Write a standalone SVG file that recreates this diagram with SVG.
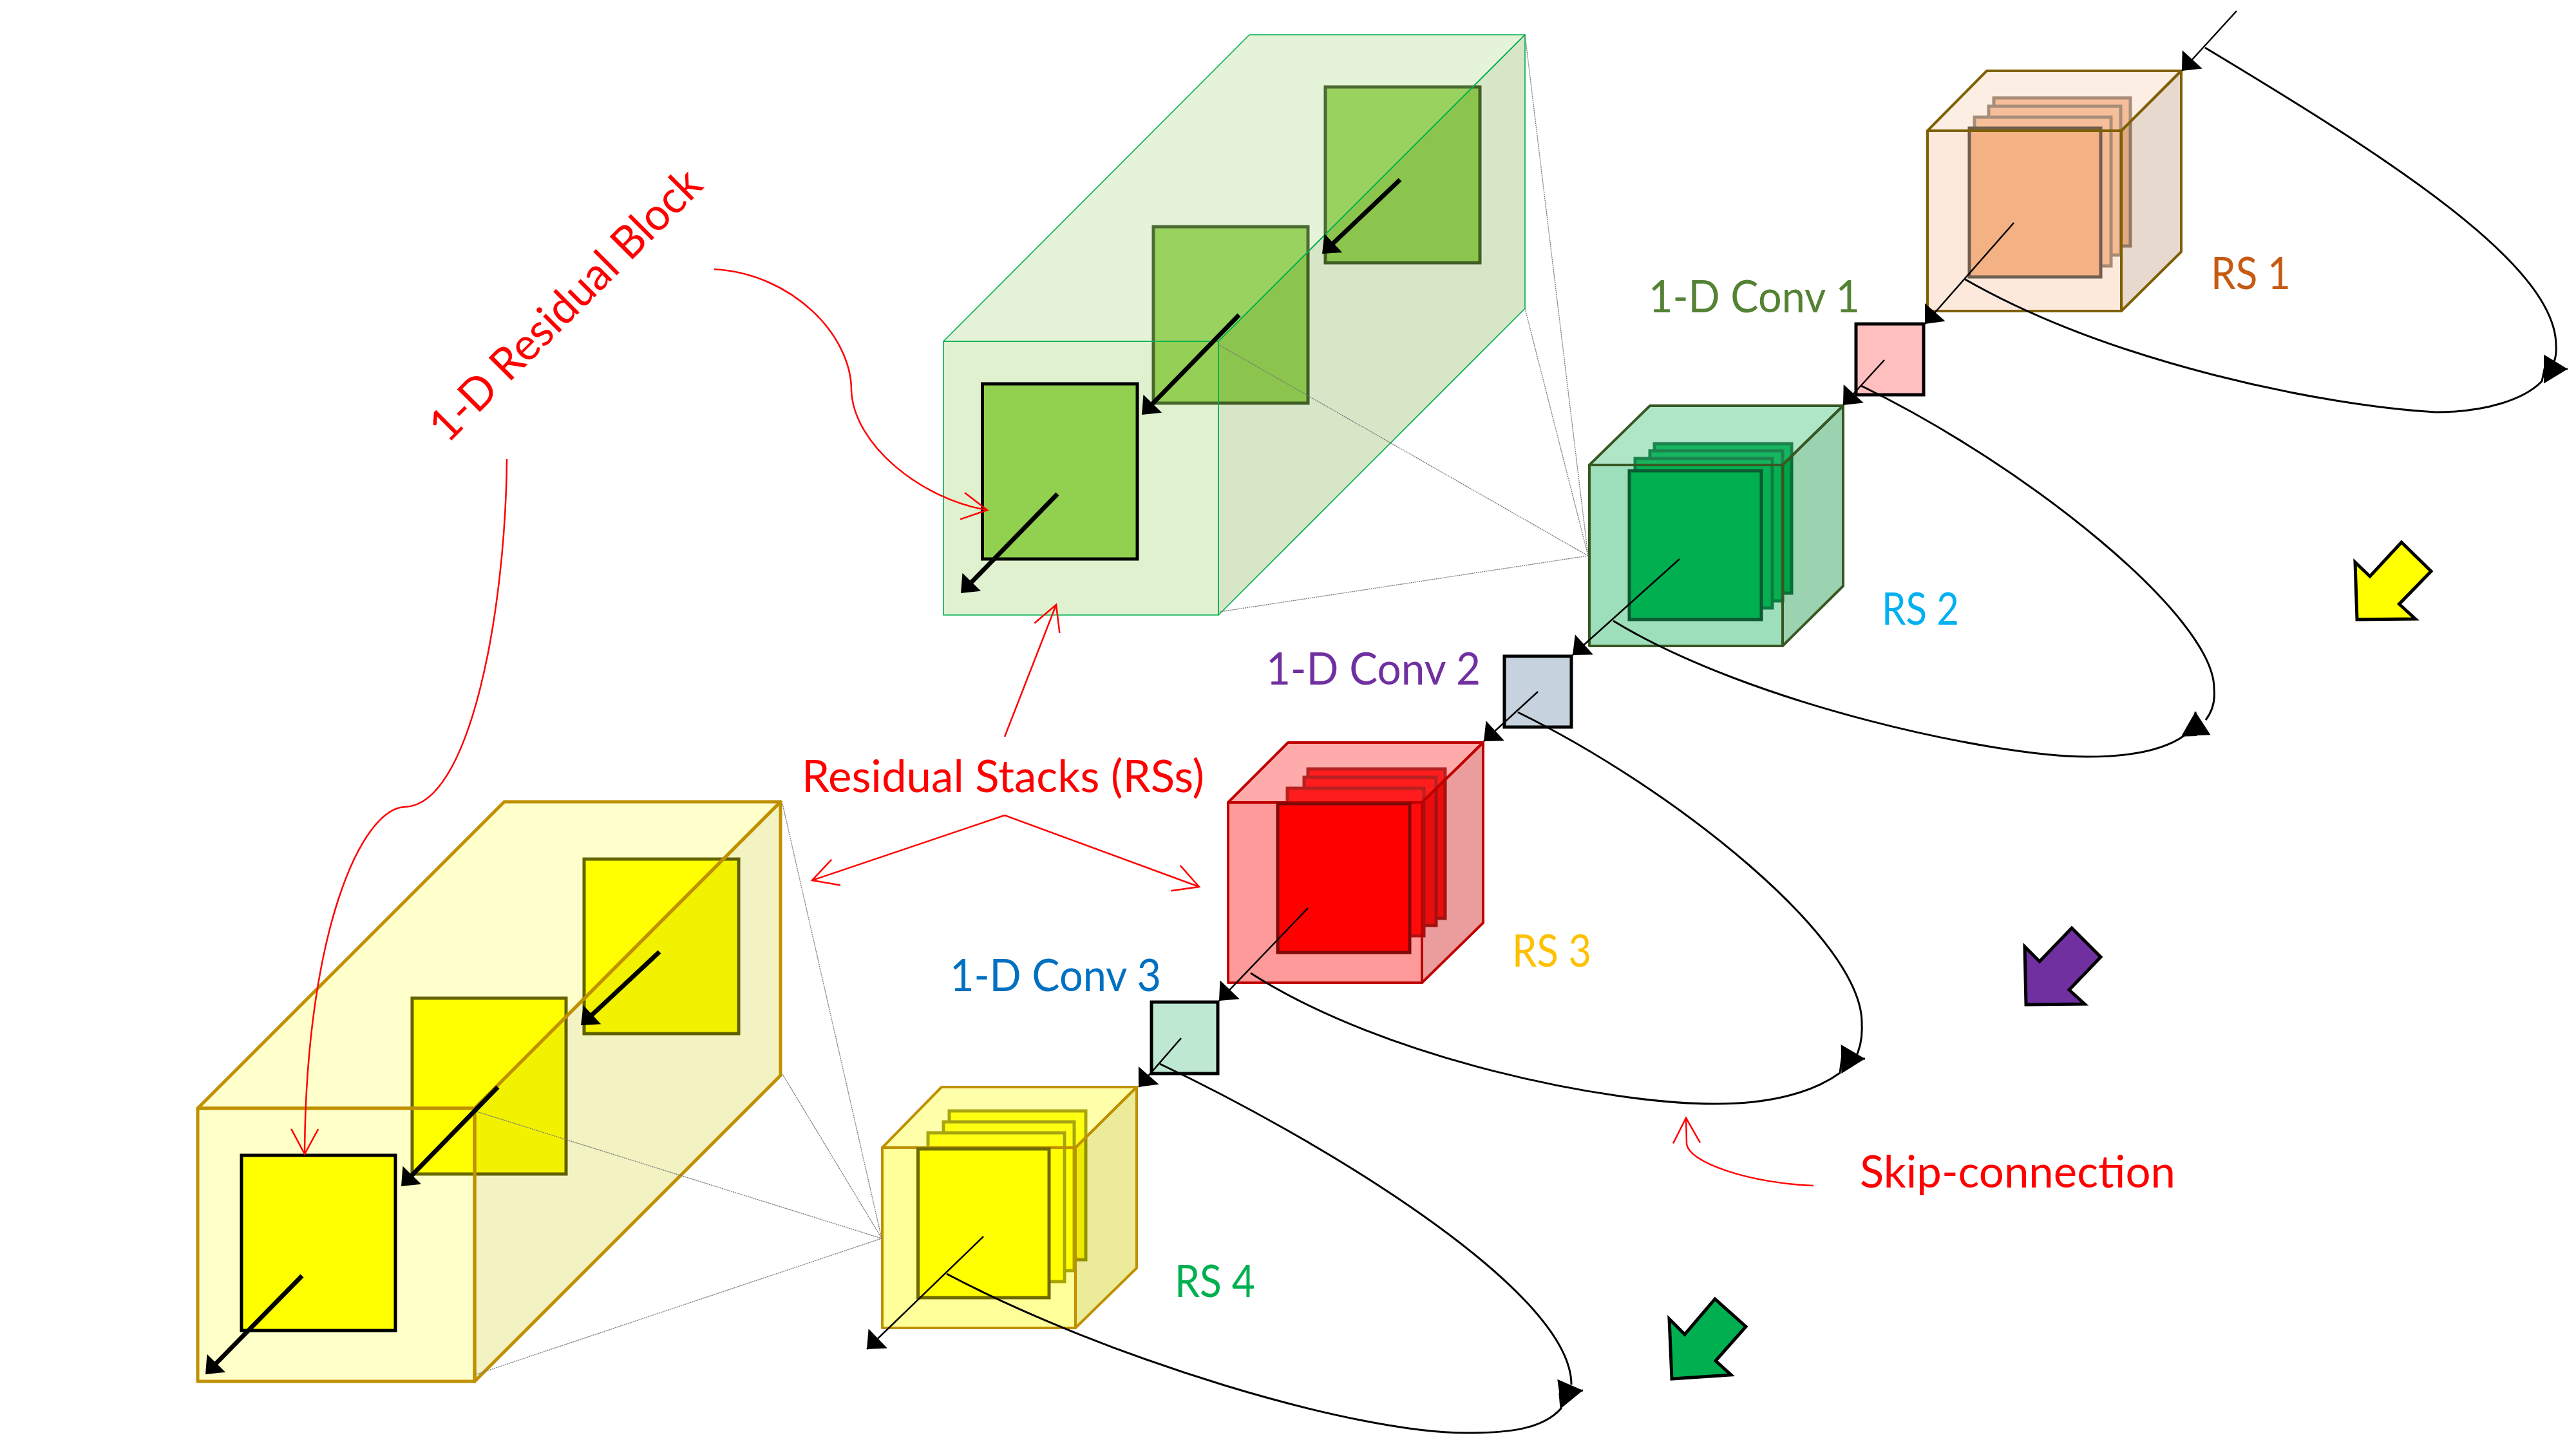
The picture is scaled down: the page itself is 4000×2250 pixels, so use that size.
<svg xmlns="http://www.w3.org/2000/svg" width="4000" height="2250" viewBox="0 0 4000 2250">
<defs>
<style>
.lbl{font-family:Lato,"Open Sans","Liberation Sans",sans-serif;font-size:70px}
.red{fill:#FF0000}
.cube polygon{stroke-width:4;stroke-linejoin:round}
.plate{stroke-width:5}
.sq{stroke:#000;stroke-width:5}
.big{fill:none;stroke:#000;stroke-width:7}
.thin{fill:none;stroke:#000;stroke-width:2.5}
.feed{fill:none;stroke:#000;stroke-width:3}
.call{fill:none;stroke:#FF0000;stroke-width:2.5}
.fan{fill:none;stroke:#777;stroke-width:1.3;stroke-dasharray:2 1}
.dir{stroke:#000;stroke-width:5;stroke-linejoin:miter}
</style>
<marker id="ah" markerUnits="userSpaceOnUse" markerWidth="26" markerHeight="44" refX="24" refY="21" orient="auto" overflow="visible"><path d="M0,0 L24,21 L0,42 z" fill="#000"/></marker>
<marker id="ahb" markerUnits="userSpaceOnUse" markerWidth="26" markerHeight="44" refX="12" refY="20" orient="auto" overflow="visible"><path d="M0,0 L24,20 L0,40 z" fill="#000"/></marker>
<marker id="ahl" markerUnits="userSpaceOnUse" markerWidth="40" markerHeight="47" refX="37" refY="22.5" orient="auto" overflow="visible"><path d="M0,0 L37,22.5 L0,45 z" fill="#000"/></marker>
<marker id="open" markerUnits="userSpaceOnUse" markerWidth="44" markerHeight="46" refX="40" refY="22" orient="auto" overflow="visible"><path d="M1,1 L40,22 L1,43" fill="none" stroke="#FF0000" stroke-width="2.5"/></marker>
</defs>
<rect width="4000" height="2250" fill="#fff"/>

<g id="rs2-detail">
<rect class="plate" x="2058" y="135" width="240" height="273" fill="#92D050" stroke="#263D13"/>
<rect class="plate" x="1791" y="352" width="240" height="274" fill="#92D050" stroke="#263D13"/>
<g fill-opacity="0.3" stroke="#00B050" stroke-width="1.6" stroke-linejoin="round">
<polygon points="1465,530 1940,54 2368,54 1892,530" fill="rgb(168,215,129)"/>
<polygon points="1892,530 2368,54 2368,479 1892,955" fill="rgb(125,172,72)"/>
<polygon points="1465,530 1892,530 1892,955 1465,955" fill="rgb(152,208,98)"/>
</g>
<rect class="plate" x="1525.5" y="596" width="240.5" height="272" fill="#92D050" stroke="#000"/>
</g>

<g id="rs4-detail">
<rect class="plate" x="907" y="1334" width="240" height="271" fill="#FFFF00" stroke="#3F3F00"/>
<rect class="plate" x="640" y="1550" width="239" height="273" fill="#FFFF00" stroke="#3F3F00"/>
<g stroke="#BF9000" stroke-width="5" stroke-linejoin="round">
<polygon points="307,1721 783,1245 1212,1245 737,1721" fill="#FFFF00" fill-opacity="0.2"/>
<polygon points="737,1721 1212,1245 1212,1670 737,2145" fill="#C8C800" fill-opacity="0.24"/>
<polygon points="307,1721 737,1721 737,2145 307,2145" fill="#FFFF00" fill-opacity="0.21"/>
</g>
<rect class="plate" x="375" y="1794" width="239" height="272" fill="#FFFF00" stroke="#000"/>
</g>

<g id="rs1" class="cube">
<rect class="plate" x="3096" y="152" width="212" height="230" fill="#F4B183" stroke="#705F50"/>
<rect class="plate" x="3088" y="165" width="205" height="231" fill="#F4B183" stroke="#705F50"/>
<rect class="plate" x="3066" y="182" width="212" height="231" fill="#F4B183" stroke="#705F50"/>
<g fill-opacity="0.4" stroke="#7F6000">
<polygon points="2993,203 3085,110 3387,110 3294,203" fill="rgb(250,212,187)"/>
<polygon points="3294,203 3387,110 3387,391 3294,483" fill="rgb(197,160,132)"/>
<polygon points="2993,203 3294,203 3294,483 2993,483" fill="rgb(247,200,167)"/>
</g>
<rect class="plate" x="3058" y="199" width="204" height="231" fill="#F4B183" stroke="#705F50"/>
<line x1="2993" y1="203" x2="3294" y2="203" stroke="#7F6000" stroke-width="4"/>
</g>

<g id="conv1"><rect class="sq" x="2882" y="503" width="105" height="110" fill="#FFBFBF"/></g>

<g id="rs2" class="cube">
<rect class="plate" x="2569" y="689" width="213" height="232" fill="#00B050" stroke="#0B5A32"/>
<rect class="plate" x="2562" y="700" width="206" height="233" fill="#00B050" stroke="#0B5A32"/>
<rect class="plate" x="2539" y="712" width="213" height="232" fill="#00B050" stroke="#0B5A32"/>
<g fill-opacity="0.4" stroke="#385723">
<polygon points="2468,722 2562,630 2862,630 2768,722" fill="rgb(55,192,117)"/>
<polygon points="2768,722 2862,630 2862,910 2768,1003" fill="rgb(5,142,57)"/>
<polygon points="2468,722 2768,722 2768,1003 2468,1003" fill="rgb(12,175,85)"/>
</g>
<rect class="plate" x="2530" y="731" width="205" height="231" fill="#00B050" stroke="#0B5A32"/>
</g>

<g id="conv2"><rect class="sq" x="2336" y="1019" width="104" height="110" fill="#C6D3DE"/></g>

<g id="rs3" class="cube">
<rect class="plate" x="2031" y="1194" width="213" height="232" fill="#FF0000" stroke="#7F0A0A"/>
<rect class="plate" x="2025" y="1207" width="205" height="230" fill="#FF0000" stroke="#7F0A0A"/>
<rect class="plate" x="1999" y="1224" width="212" height="229" fill="#FF0000" stroke="#7F0A0A"/>
<g fill-opacity="0.44" stroke="#C00000">
<polygon points="1907,1246 2000,1153 2303,1153 2208,1246" fill="rgb(255,63,63)"/>
<polygon points="2208,1246 2303,1153 2303,1433 2208,1526" fill="rgb(209,30,30)"/>
<polygon points="1907,1246 2208,1246 2208,1526 1907,1526" fill="rgb(255,25,25)"/>
</g>
<rect class="plate" x="1984" y="1248" width="205" height="231" fill="#FF0000" stroke="#7F0A0A"/>
</g>

<g id="conv3"><rect class="sq" x="1788" y="1556" width="103" height="111" fill="#BFE8D3"/></g>

<g id="rs4" class="cube">
<rect class="plate" x="1474" y="1725" width="212" height="231" fill="#FFFF00" stroke="#6E6A00"/>
<rect class="plate" x="1465" y="1742" width="203" height="231" fill="#FFFF00" stroke="#6E6A00"/>
<rect class="plate" x="1441" y="1759" width="212" height="231" fill="#FFFF00" stroke="#6E6A00"/>
<g fill-opacity="0.4" stroke="#BF9000">
<polygon points="1370,1782 1462,1688 1765,1688 1670,1782" fill="rgb(255,255,43)"/>
<polygon points="1670,1782 1765,1688 1765,1969 1670,2062" fill="rgb(205,205,0)"/>
<polygon points="1370,1782 1670,1782 1670,2062 1370,2062" fill="rgb(255,255,0)"/>
</g>
<rect class="plate" x="1425.5" y="1784" width="203.5" height="231" fill="#FFFF00" stroke="#6E6A00"/>
</g>

<g id="dir-arrows">
<polygon id="dir-yellow" class="dir" fill="#FFFF00" points="3729,842 3775,887 3725.5,938 3750.5,961 3660,962 3657,873 3680,895"/>
<polygon id="dir-purple" class="dir" fill="#7030A0" points="3217,1441 3262,1486 3213,1537 3237,1559 3146,1560 3144,1470 3167,1493"/>
<polygon id="dir-green" class="dir" fill="#00B050" points="2663,2017 2711,2060 2664,2113 2688,2135 2596,2141 2592,2048 2616,2072"/>
</g>

<g id="connectors">
<g id="zoom-fans">
<path class="fan" d="M2466,863 L2368,54 M2466,863 L2368,479 M2466,863 L1892,535 M2466,863 L1894,950"/>
<path class="fan" d="M1369,1923 L1215,1248 M1369,1923 L1215,1668 M1369,1923 L740,1726 M1369,1923 L737,2135"/>
</g>
<g id="flow">
<line class="thin" x1="3473" y1="17" x2="3388" y2="110" marker-end="url(#ah)"/>
<line class="thin" x1="3127" y1="346" x2="2989" y2="503" marker-end="url(#ah)"/>
<line class="thin" x1="2926" y1="559" x2="2862" y2="629" marker-end="url(#ah)"/>
<line class="thin" x1="2608" y1="868" x2="2442" y2="1017" marker-end="url(#ah)"/>
<line class="thin" x1="2388" y1="1074" x2="2304" y2="1151" marker-end="url(#ah)"/>
<line class="thin" x1="2031" y1="1410" x2="1893" y2="1554" marker-end="url(#ah)"/>
<line class="thin" x1="1834" y1="1612" x2="1768" y2="1688" marker-end="url(#ah)"/>
<line class="thin" x1="1527" y1="1920" x2="1346" y2="2095" marker-end="url(#ah)"/>
</g>
<g id="inner-arrows">
<line class="big" x1="2174" y1="279" x2="2061.7" y2="385.7" marker-end="url(#ahb)"/>
<line class="big" x1="1924" y1="489" x2="1781.4" y2="635.4" marker-end="url(#ahb)"/>
<line class="big" x1="1642" y1="767" x2="1500.4" y2="912.4" marker-end="url(#ahb)"/>
<line class="big" x1="1024" y1="1478" x2="910.8" y2="1583.8" marker-end="url(#ahb)"/>
<line class="big" x1="773" y1="1688" x2="631.4" y2="1833.4" marker-end="url(#ahb)"/>
<line class="big" x1="469" y1="1981" x2="327.4" y2="2125.4" marker-end="url(#ahb)"/>
</g>
<g id="skips">
<path class="feed" d="M3424,74 C3700,240 3970,410 3969,537 C3970,550 3968,560 3962,570"/>
<path class="feed" d="M3050,433 C3280,565 3610,630 3782,640 C3860,640 3920,620 3947,592 L3951,573 L3987,573" marker-end="url(#ahl)"/>
<path class="feed" d="M2890,599 C3150,725 3440,960 3438,1070 C3440,1090 3435,1105 3425,1118"/>
<path class="feed" d="M2505,964 C2720,1095 3100,1175 3241,1175 C3310,1175 3360,1165 3392,1142 L3410,1141.5 L3409,1105" marker-end="url(#ahl)"/>
<path class="feed" d="M2357,1106 C2600,1225 2895,1460 2891,1591 C2892,1610 2888,1630 2880,1645"/>
<path class="feed" d="M1942,1511 C2150,1645 2500,1715 2665,1714 C2740,1714 2810,1700 2857,1666 L2860,1644.5 L2896,1644" marker-end="url(#ahl)"/>
<path class="feed" d="M1801,1652 C2030,1760 2440,2000 2440,2150"/>
<path class="feed" d="M1470,1978 C1720,2110 2100,2225 2278,2225 C2340,2225 2395,2220 2424,2187 L2422,2164 L2458,2159" marker-end="url(#ahl)"/>
</g>
<g id="callouts">
<path class="call" d="M1109,418 C1230,425 1322,520 1322,606 C1325,690 1430,775 1533,792" marker-end="url(#open)"/>
<path class="call" d="M787,713 C785,950 730,1250 629,1253 C560,1255 475,1450 473,1792" marker-end="url(#open)"/>
<line class="call" x1="1560" y1="1144" x2="1640" y2="939" marker-end="url(#open)"/>
<line class="call" x1="1560" y1="1266" x2="1261" y2="1367" marker-end="url(#open)"/>
<line class="call" x1="1560" y1="1266" x2="1862" y2="1377" marker-end="url(#open)"/>
<path class="call" d="M2816,1841 C2720,1838 2619,1805 2619,1775 L2618,1736" marker-end="url(#open)"/>
</g>
</g>

<g id="labels">
<text class="lbl" x="3433" y="449" fill="#C55A11" textLength="124" lengthAdjust="spacingAndGlyphs">RS 1</text>
<text class="lbl" x="2922" y="970" fill="#00B0F0" textLength="120" lengthAdjust="spacingAndGlyphs">RS 2</text>
<text class="lbl" x="2348" y="1501" fill="#FFC000" textLength="123" lengthAdjust="spacingAndGlyphs">RS 3</text>
<text class="lbl" x="1824" y="2014" fill="#00B050" textLength="125" lengthAdjust="spacingAndGlyphs">RS 4</text>
<text class="lbl" x="2560" y="485" fill="#548235" textLength="328" lengthAdjust="spacingAndGlyphs">1-D Conv 1</text>
<text class="lbl" x="1966" y="1063" fill="#7030A0" textLength="333" lengthAdjust="spacingAndGlyphs">1-D Conv 2</text>
<text class="lbl" x="1475" y="1539" fill="#0070C0" textLength="328" lengthAdjust="spacingAndGlyphs">1-D Conv 3</text>
<text class="lbl red" x="1245" y="1230" textLength="625" lengthAdjust="spacingAndGlyphs">Residual Stacks (RSs)</text>
<text class="lbl red" x="2888" y="1844" textLength="490" lengthAdjust="spacingAndGlyphs">Skip-connection</text>
<text class="lbl red" transform="translate(695,690) rotate(-45)" textLength="565" lengthAdjust="spacingAndGlyphs">1-D Residual Block</text>
</g>
</svg>
